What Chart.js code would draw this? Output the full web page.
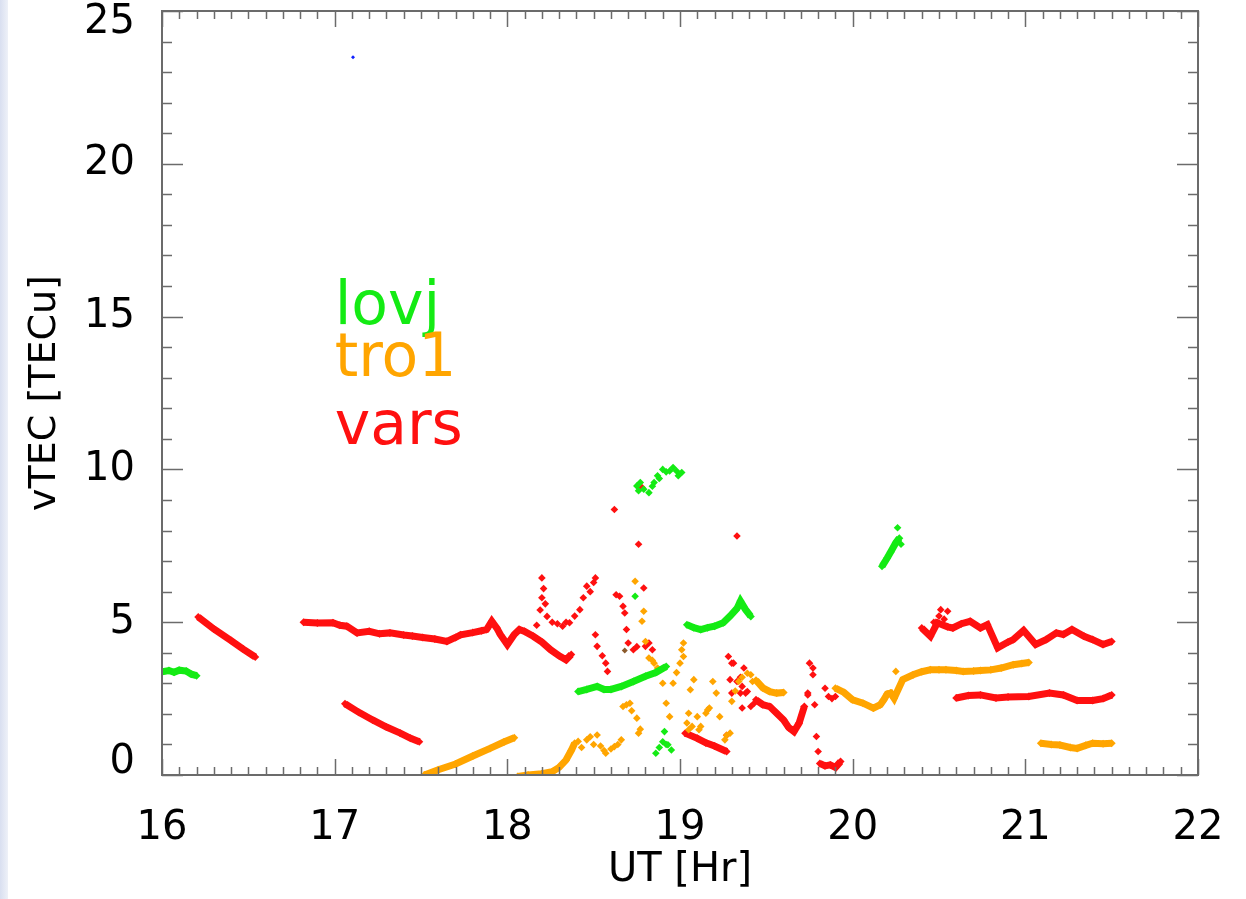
<!DOCTYPE html>
<html>
<head>
<meta charset="utf-8">
<title>vTEC</title>
<script src="https://cdn.jsdelivr.net/npm/chart.js@4/dist/chart.umd.min.js"></script>
<style>
  html, body { margin: 0; padding: 0; background: #fff; }
  #wrap { position: relative; width: 1246px; height: 899px; }
  #edge { position: absolute; left: 0; top: 0; width: 8px; height: 899px;
          background: linear-gradient(to right, #d9dff0, #eef1f8); }
  canvas { display: block; }
</style>
</head>
<body>
<div id="wrap">
  <canvas id="tec" width="1246" height="899"></canvas>
  <div id="edge"></div>
</div>
<script>
// station colours
const GREEN = 'rgb(20,235,20)';
const ORANGE = '#ffa500';
const RED = '#ff1010';

// axis ranges and labels
const xRange = [16, 22];
const yRange = [0, 25];
const xTitle = 'UT [Hr]';
const yTitle = 'vTEC [TECu]';
const stations = ['lovj', 'tro1', 'vars'];

// lovj: continuous arcs [UT, vTEC]
const lovjArc1 = [[16.0,3.38],[16.04,3.42],[16.07,3.36],[16.1,3.43],[16.14,3.4],[16.17,3.3],[16.2,3.25]];
const lovjArc2 = [[18.41,2.73],[18.46,2.8],[18.52,2.9],[18.56,2.8],[18.6,2.8],[18.66,2.9],[18.73,3.06],[18.8,3.23],[18.86,3.35],[18.92,3.55]];
const lovjArc3 = [[19.04,4.92],[19.08,4.82],[19.12,4.76],[19.16,4.82],[19.2,4.87],[19.25,4.98],[19.29,5.2],[19.33,5.45],[19.35,5.69],[19.38,5.41],[19.41,5.19]];
const lovjArc4 = [[20.17,6.83],[20.2,7.1],[20.22,7.3],[20.25,7.6],[20.27,7.75]];
// lovj: isolated samples
const lovjPts = [[18.75,9.46],[18.76,9.3],[18.77,9.57],[18.79,9.35],[18.82,9.24],[18.84,9.45],[18.85,9.57],
  [18.87,9.79],[18.88,9.7],[18.9,10.0],[18.92,9.92],[18.94,9.95],[18.96,10.06],[18.98,9.95],[18.99,9.79],[19.01,9.9],
  [18.74,5.85],[18.86,0.71],[18.88,0.9],[18.9,1.09],[18.91,1.42],[18.92,1.0],[18.93,0.99],[18.95,0.82],
  [20.26,8.09],[20.28,7.55]];

// tro1: continuous arcs
const tro1Arc1 = [[17.52,0],[17.6,0.17],[17.7,0.36],[17.8,0.62],[17.9,0.87],[17.98,1.08],[18.04,1.22]];
const tro1Arc2 = [[18.06,-0.05],[18.12,0.0],[18.2,0.04],[18.26,0.11],[18.3,0.25],[18.34,0.49],[18.37,0.8],[18.39,1.04]];
const tro1Arc3 = [[19.44,3.1],[19.48,2.85],[19.52,2.73],[19.56,2.68],[19.6,2.7]];
const tro1Arc4 = [[19.9,2.84],[19.95,2.7],[20.0,2.46],[20.06,2.35],[20.12,2.19],[20.16,2.3],[20.18,2.46],[20.2,2.65],
  [20.22,2.68],[20.24,2.51],[20.29,3.12],[20.35,3.28],[20.4,3.38],[20.45,3.44],[20.5,3.44],[20.54,3.44],[20.6,3.42],
  [20.64,3.39],[20.7,3.4],[20.74,3.42],[20.8,3.44],[20.86,3.5],[20.93,3.61],[20.98,3.65],[21.02,3.68]];
const tro1Arc5 = [[21.09,1.04],[21.15,1.0],[21.2,0.98],[21.26,0.9],[21.3,0.87],[21.35,0.97],[21.39,1.04],[21.45,1.02],[21.5,1.04]];
// tro1: isolated samples
const tro1Pts = [[18.41,1.1],[18.43,0.9],[18.46,1.15],[18.48,1.25],[18.5,1.0],[18.52,1.31],[18.54,0.95],[18.56,0.8],
  [18.57,0.71],[18.6,0.85],[18.62,0.93],[18.64,1.0],[18.66,1.15],[18.67,2.24],[18.69,2.3],[18.71,2.35],[18.72,2.1],
  [18.75,1.86],[18.76,1.37],[18.77,1.5],[18.74,6.34],[18.79,5.36],[18.78,5.03],[18.8,4.37],[18.82,3.83],[18.84,3.75],
  [18.85,3.66],[18.87,3.5],[18.88,3.44],[18.9,3.0],[18.92,2.35],[18.94,1.91],[18.96,3.0],[18.98,3.35],[19.0,3.66],
  [19.02,3.88],[19.01,4.1],[19.02,4.32],[19.05,2.02],[19.07,1.59],[19.08,3.12],[19.06,2.79],[19.04,1.7],[19.05,1.48],
  [19.1,1.91],[19.11,1.48],[19.12,1.59],[19.15,2.02],[19.16,2.13],[19.17,2.19],[19.19,3.06],[19.21,2.68],[19.23,1.91],
  [19.26,1.15],[19.27,1.3],[19.29,1.37],[19.3,2.41],[19.32,2.75],[19.34,3.06],[19.36,3.2],[19.39,3.33],[19.41,3.28],
  [19.42,3.06],[20.25,3.39]];

// vars: continuous arcs
const varsArc1 = [[16.21,5.17],[16.3,4.78],[16.4,4.4],[16.47,4.12],[16.54,3.86]];
const varsArc2 = [[16.82,5.0],[16.9,4.97],[16.99,4.98],[17.03,4.9],[17.07,4.87],[17.13,4.65],[17.2,4.7],[17.26,4.62],
  [17.32,4.65],[17.4,4.58],[17.45,4.55],[17.51,4.5],[17.58,4.45],[17.65,4.37],[17.7,4.5],[17.73,4.59],[17.8,4.66],
  [17.85,4.72],[17.88,4.76],[17.91,5.03],[17.94,4.8],[17.96,4.59],[18.0,4.27],[18.04,4.6],[18.07,4.76],[18.1,4.7],
  [18.15,4.54],[18.2,4.35],[18.25,4.1],[18.3,3.9],[18.34,3.77],[18.37,3.94]];
const varsArc3 = [[17.06,2.33],[17.14,2.05],[17.22,1.8],[17.3,1.57],[17.38,1.37],[17.44,1.2],[17.49,1.09]];
const varsArc4 = [[19.03,1.37],[19.1,1.2],[19.15,1.05],[19.2,0.95],[19.27,0.77]];
const varsArc5 = [[19.44,2.46],[19.48,2.3],[19.52,2.24],[19.56,2.02],[19.6,1.8],[19.63,1.55],[19.66,1.42],[19.69,1.7],[19.72,2.24]];
const varsArc6 = [[19.81,0.38],[19.84,0.3],[19.87,0.33],[19.9,0.25],[19.93,0.44]];
const varsArc7 = [[20.4,4.81],[20.45,4.54],[20.49,4.98],[20.55,4.85],[20.58,4.81],[20.63,4.95],[20.68,5.03],[20.74,4.81],
  [20.78,4.92],[20.84,4.16],[20.9,4.35],[20.93,4.43],[20.99,4.73],[21.06,4.27],[21.12,4.43],[21.18,4.65],[21.22,4.6],
  [21.27,4.76],[21.34,4.54],[21.39,4.43],[21.45,4.27],[21.5,4.37]];
const varsArc8 = [[20.6,2.52],[20.67,2.6],[20.74,2.62],[20.83,2.52],[20.9,2.55],[21.02,2.57],[21.14,2.68],[21.22,2.62],
  [21.3,2.44],[21.39,2.44],[21.45,2.5],[21.5,2.62]];
// vars: isolated samples
const varsPts = [[18.17,4.9],[18.19,5.4],[18.2,5.8],[18.2,6.45],[18.21,6.1],[18.22,5.6],[18.23,5.19],[18.26,5.0],
  [18.29,4.95],[18.32,4.87],[18.34,5.0],[18.36,4.98],[18.39,5.2],[18.42,5.41],[18.44,5.8],[18.46,6.18],[18.48,6.0],
  [18.5,6.3],[18.51,6.45],[18.51,4.59],[18.52,4.21],[18.55,3.9],[18.57,3.66],[18.58,3.39],[18.62,8.69],[18.63,5.9],
  [18.65,5.85],[18.67,5.52],[18.68,5.3],[18.69,4.76],[18.7,4.32],[18.73,4.1],[18.75,4.2],[18.76,7.55],[18.78,9.41],
  [18.79,6.12],[18.8,4.21],[18.82,4.32],[18.84,4.1],[19.28,3.88],[19.3,3.66],[19.29,3.12],[19.33,7.82],[19.31,3.66],
  [19.35,3.2],[19.37,3.5],[19.3,2.68],[19.36,2.9],[19.38,2.68],[19.41,2.24],[19.43,2.35],[19.39,2.73],[19.36,2.19],
  [19.33,3.06],[19.35,2.68],[19.27,1.3],[19.74,2.68],[19.75,3.66],[19.77,3.28],[19.77,3.5],[19.78,2.3],[19.74,2.62],
  [19.79,1.26],[19.8,0.77],[19.84,2.84],[19.86,2.57],[19.9,2.57],[19.88,2.5],[20.47,5.0],[20.51,5.41],[20.55,5.36],
  [20.53,5.1],[20.5,5.2]];

// stray samples from other receivers
const bluePts = [[17.106,23.49]];
const brownPts = [[18.68,4.07]];
const blackPts = [[20.6,-0.2]];

const toXY = pts => pts.map(([x, y]) => ({ x, y }));

// join arcs with gaps so one dataset draws several separate strokes
const joinArcs = arcs => {
    const out = [];
    arcs.forEach((arc, i) => {
        if (i > 0) out.push({ x: arc[0][0] - 0.001, y: null });
        out.push(...toXY(arc));
    });
    return out;
};

const arcSet = (label, arcs, color) => ({
    label,
    data: joinArcs(arcs),
    showLine: true,
    spanGaps: false,
    borderColor: color,
    backgroundColor: color,
    borderWidth: 7,
    pointStyle: 'rectRot',
    pointRadius: 4,
    pointBorderWidth: 0,
    tension: 0,
});

const pointSet = (label, pts, color, r = 3.8, clip = undefined) => ({
    label,
    data: toXY(pts),
    showLine: false,
    backgroundColor: color,
    borderColor: color,
    pointStyle: 'rectRot',
    pointRadius: r,
    pointBorderWidth: 0,
    ...(clip !== undefined ? { clip } : {}),
});

// inward IDL-style ticks on all four sides, plus the station labels
const frame = {
    id: 'frame',
    afterDraw(chart) {
        const { ctx, chartArea: a, scales: { x, y } } = chart;
        ctx.save();
        ctx.strokeStyle = '#6b6b6b';
        ctx.lineWidth = 2;
        ctx.strokeRect(a.left, a.top, a.right - a.left, a.bottom - a.top);
        ctx.lineWidth = 1.5;
        ctx.beginPath();
        for (let i = 0; i <= 60; i++) {
            const px = Math.round(x.getPixelForValue(xRange[0] + i / 10)) + 0.5;
            const len = i % 10 === 0 ? 16 : 8;
            ctx.moveTo(px, a.bottom); ctx.lineTo(px, a.bottom - len);
            ctx.moveTo(px, a.top); ctx.lineTo(px, a.top + len);
        }
        for (let v = yRange[0]; v <= yRange[1]; v++) {
            const py = Math.round(y.getPixelForValue(v)) + 0.5;
            const len = v % 5 === 0 ? 21 : 10;
            ctx.moveTo(a.left, py); ctx.lineTo(a.left + len, py);
            ctx.moveTo(a.right, py); ctx.lineTo(a.right - len, py);
        }
        ctx.stroke();

        ctx.font = '60px "DejaVu Sans"';
        ctx.textBaseline = 'alphabetic';
        ctx.textAlign = 'left';
        const colors = [GREEN, ORANGE, RED];
        const baselines = [14.76, 13.06, 10.83];
        stations.forEach((name, i) => {
            ctx.fillStyle = colors[i];
            ctx.fillText(name, x.getPixelForValue(17.0), y.getPixelForValue(baselines[i]));
        });
        ctx.restore();
    },
};

const noPad = scale => {
    scale.paddingTop = 0;
    scale.paddingBottom = 0;
    scale.paddingLeft = 0;
    scale.paddingRight = 0;
};

// end labels sit just inside the axis range: pad them with an empty line
const isEnd = v => v === yRange[0] || v === yRange[1];

new Chart(document.getElementById('tec'), {
    type: 'scatter',
    data: {
        datasets: [
            arcSet('lovj', [lovjArc1, lovjArc2, lovjArc3, lovjArc4], GREEN),
            pointSet('lovj pts', lovjPts, GREEN),
            arcSet('tro1', [tro1Arc1, tro1Arc2, tro1Arc3, tro1Arc4, tro1Arc5], ORANGE),
            pointSet('tro1 pts', tro1Pts, ORANGE),
            arcSet('vars', [varsArc1, varsArc2, varsArc3, varsArc4, varsArc5, varsArc6, varsArc7, varsArc8], RED),
            pointSet('vars pts', varsPts, RED),
            pointSet('blue', bluePts, '#1020ff', 2),
            pointSet('brown', brownPts, '#8b5a2b', 3),
            pointSet('black', blackPts, '#000', 2, false),
        ],
    },
    options: {
        responsive: false,
        animation: false,
        devicePixelRatio: 1,
        layout: { padding: { top: 11, right: 48, bottom: 0, left: 0 } },
        plugins: { legend: { display: false }, tooltip: { enabled: false } },
        scales: {
            x: {
                type: 'linear',
                min: xRange[0],
                max: xRange[1],
                grid: { display: false },
                border: { display: false },
                ticks: {
                    stepSize: 1,
                    padding: 22,
                    color: '#000',
                    font: { family: 'DejaVu Sans', size: 40 },
                    maxRotation: 0,
                },
                title: {
                    display: true,
                    text: xTitle,
                    color: '#000',
                    font: { family: 'DejaVu Sans', size: 40 },
                    padding: { top: 0, bottom: 4 },
                },
                afterFit(scale) { scale.height = 124; noPad(scale); },
            },
            y: {
                type: 'linear',
                min: yRange[0],
                max: yRange[1],
                grid: { display: false },
                border: { display: false },
                ticks: {
                    stepSize: 5,
                    padding: 19,
                    color: '#000',
                    font: c => ({
                        family: 'DejaVu Sans',
                        size: 40,
                        lineHeight: c.tick && isEnd(c.tick.value) ? 0.6 : 1.2,
                    }),
                    callback: v => v === yRange[1] ? ['', String(v)] : v === yRange[0] ? [String(v), ''] : String(v),
                },
                title: {
                    display: true,
                    text: yTitle,
                    color: '#000',
                    font: { family: 'DejaVu Sans', size: 38 },
                    padding: { top: 22, bottom: 0 },
                },
                afterFit(scale) { scale.width = 162; noPad(scale); },
            },
        },
    },
    plugins: [frame],
});
</script>
</body>
</html>
